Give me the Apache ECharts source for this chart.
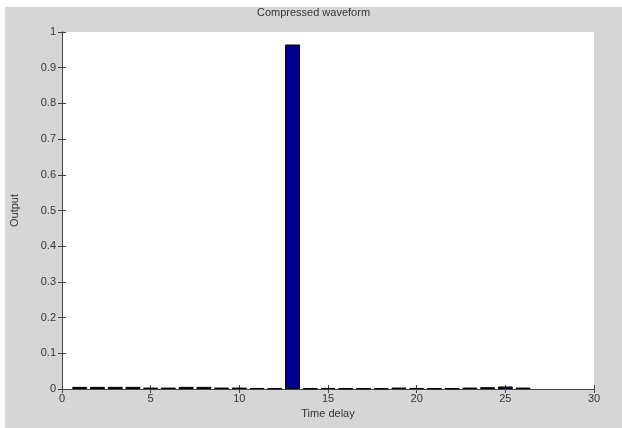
<!DOCTYPE html>
<html>
<head>
<meta charset="utf-8">
<script src="https://cdn.jsdelivr.net/npm/echarts@6/dist/echarts.min.js"></script>
<style>
  html, body { margin: 0; padding: 0; background: #fff; }
  #chart { position: absolute; left: 5px; top: 7px; width: 617px; height: 421px; }
</style>
</head>
<body>
<div id="chart"></div>
<script>
// time delay positions and compressed output values
var delays = [1, 2, 3, 4, 5, 6, 7, 8, 9, 10, 11, 12, 13, 14, 15, 16, 17, 18, 19, 20, 21, 22, 23, 24, 25, 26];
var outputs = [0.006, 0.006, 0.006, 0.006, 0.004, 0.004, 0.006, 0.006, 0.004, 0.004, 0.003, 0.002, 0.965,
               0.002, 0.003, 0.002, 0.002, 0.002, 0.004, 0.003, 0.002, 0.002, 0.004, 0.005, 0.007, 0.004];
var xTicks = [0, 5, 10, 15, 20, 25, 30];
var yTicks = [0, 0.1, 0.2, 0.3, 0.4, 0.5, 0.6, 0.7, 0.8, 0.9, 1];

var chart = echarts.init(document.getElementById("chart"));

var txt = { color: "#333", fontFamily: "Liberation Sans, Arial, sans-serif", fontSize: 11 };
var axisLine = { show: true, lineStyle: { color: "#444", width: 1 } };
var tickIn = { show: true, inside: true, length: 4, lineStyle: { color: "#444" } };

var option = {
    backgroundColor: "#d6d6d6",
    animation: false,
    title: {
        text: "Compressed waveform",
        left: "center",
        top: 0,
        padding: 0,
        textStyle: { color: "#333", fontFamily: txt.fontFamily, fontSize: 11, fontWeight: "normal" }
    },
    grid: {
        left: 57, right: 28, top: 25, bottom: 39,
        containLabel: false, outerBoundsMode: "none",
        backgroundColor: "#fff", show: true, borderWidth: 0
    },
    xAxis: [{
        type: "value",
        min: 0, max: 30, interval: 5,
        name: "Time delay",
        nameLocation: "middle",
        nameGap: 19,
        nameTextStyle: txt,
        axisLine: axisLine,
        axisTick: tickIn,
        axisLabel: Object.assign({ margin: 4, formatter: function (v) { return xTicks.indexOf(v) >= 0 ? v : ""; } }, txt),
        splitLine: { show: false }
    }, {
        type: "value",
        position: "top",
        min: 0, max: 30, interval: 5,
        axisLine: axisLine,
        axisTick: tickIn,
        axisLabel: { show: false },
        splitLine: { show: false }
    }],
    yAxis: [{
        type: "value",
        min: 0, max: 1, interval: 0.1,
        name: "Output",
        nameLocation: "middle",
        nameRotate: 90,
        nameGap: 42,
        nameTextStyle: txt,
        axisLine: axisLine,
        axisTick: tickIn,
        axisLabel: Object.assign({ margin: 6, formatter: function (v) {
            var r = Math.round(v * 10) / 10;
            return yTicks.indexOf(r) >= 0 ? String(r) : "";
        } }, txt),
        splitLine: { show: false }
    }, {
        type: "value",
        position: "right",
        min: 0, max: 1, interval: 0.1,
        axisLine: axisLine,
        axisTick: tickIn,
        axisLabel: { show: false },
        splitLine: { show: false }
    }],
    series: [{
        type: "bar",
        barWidth: 15,
        data: delays.map(function (d, i) { return [d, outputs[i]]; }),
        itemStyle: { color: "#00008f", borderColor: "#000", borderWidth: 1 }
    }]
};

chart.setOption(option);
window.addEventListener("resize", function () { chart.resize(); });
</script>
</body>
</html>
